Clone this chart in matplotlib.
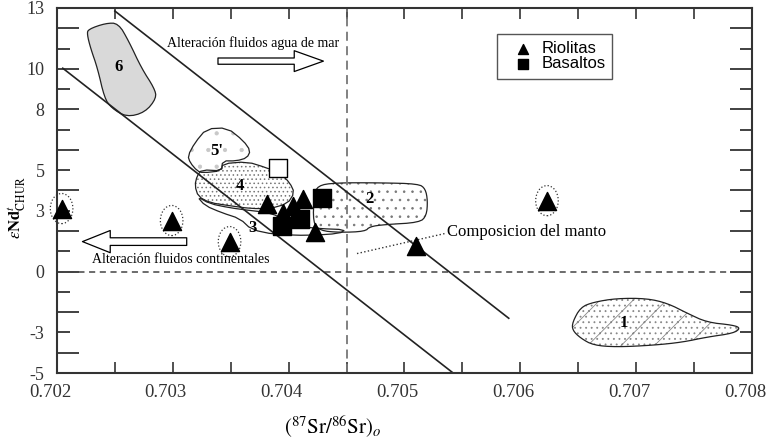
import matplotlib.pyplot as plt
from matplotlib.patches import Polygon
from matplotlib.path import Path
from matplotlib.transforms import Affine2D, ScaledTranslation
from matplotlib.ticker import FixedLocator, FuncFormatter

plt.rcParams['font.family'] = ['Liberation Serif', 'DejaVu Serif']
plt.rcParams['mathtext.fontset'] = 'stix'
plt.rcParams['hatch.linewidth'] = 0.6

# samples
rio_x = [0.70381, 0.70395, 0.70404, 0.70412, 0.70423, 0.70510]
rio_y = [3.35, 2.91, 3.25, 3.60, 1.93, 1.24]
rio_circ_x = [0.70204, 0.70299, 0.70349, 0.70623]
rio_circ_y = [3.11, 2.52, 1.48, 3.50]
bas_x = [0.70394, 0.70410, 0.70429]
bas_y = [2.27, 2.57, 3.65]
open_x = [0.70391]
open_y = [5.12]
legend_labels = ['Riolitas', 'Basaltos']

# mixing / trend lines
upper_x = [0.7025, 0.7059]
upper_y = [12.85, -2.3]
lower_x = [0.70205, 0.70542]
lower_y = [10.03, -5.0]
sr_ref = 0.7045
nd_ref = 0.0

# fields 1-6
reg6_x = [0.70227, 0.70242, 0.70253, 0.70262, 0.70273, 0.70284, 0.70286, 0.70276,
          0.70260, 0.70247, 0.70241, 0.70235, 0.70229, 0.70226]
reg6_y = [11.95, 12.25, 12.25, 11.36, 10.03, 9.05, 8.56, 7.85, 7.62, 8.07, 8.56, 10.03, 11.02, 11.71]
reg5_x = [0.70313, 0.70319, 0.70329, 0.70347, 0.70361, 0.70367, 0.70364, 0.70355,
          0.70343, 0.70342, 0.70326, 0.70321, 0.70315]
reg5_y = [5.71, 6.35, 7.04, 7.09, 6.45, 5.96, 5.61, 5.46, 5.46, 4.97, 4.87, 4.97, 5.37]
reg4_x = [0.70343, 0.70364, 0.70381, 0.70393, 0.70401, 0.70405, 0.70399, 0.70384,
          0.70367, 0.70349, 0.70332, 0.70322, 0.70319, 0.70321, 0.70325, 0.70342]
reg4_y = [5.32, 5.42, 5.12, 4.83, 4.38, 3.89, 3.35, 3.11, 3.11, 3.25, 3.40, 3.70, 4.24,
          4.73, 5.02, 4.97]
reg3_x = [0.70321, 0.70328, 0.70342, 0.70358, 0.70368, 0.70388, 0.70418, 0.70444,
          0.70449, 0.70427, 0.70410, 0.70401, 0.70384, 0.70367, 0.70349, 0.70332]
reg3_y = [3.70, 3.25, 2.91, 2.61, 2.07, 1.83, 1.78, 1.88, 2.07, 2.12, 2.22, 2.42, 2.91,
          3.01, 3.15, 3.35]
reg2_x = [0.70425, 0.70440, 0.70479, 0.70512, 0.70518, 0.70520, 0.70519, 0.70513,
          0.70483, 0.70470, 0.70466, 0.70444, 0.70427, 0.70421, 0.70422]
reg2_y = [4.24, 4.38, 4.38, 4.33, 4.09, 3.50, 2.76, 2.42, 2.32, 2.22, 1.98, 1.93, 2.02,
          2.42, 3.74]
reg1_x = [0.70645, 0.70652, 0.70663, 0.70683, 0.70709, 0.70727, 0.70744, 0.70761,
          0.70784, 0.70790, 0.70784, 0.70761, 0.70740, 0.70715, 0.70683, 0.70663,
          0.70652, 0.70645]
reg1_y = [-2.50, -1.76, -1.51, -1.32, -1.32, -1.56, -2.05, -2.50, -2.64, -2.79, -3.04,
          -3.23, -3.48, -3.63, -3.72, -3.63, -3.28, -2.89]

region_labels = ['6', "5'", '4', '3', '2', '1']
region_lab_x = [0.70253, 0.70338, 0.70358, 0.70369, 0.70470, 0.70689]
region_lab_y = [10.08, 5.96, 4.24, 2.17, 3.60, -2.55]

x_ticks = [0.702, 0.703, 0.704, 0.705, 0.706, 0.707, 0.708]
x_minor = [0.7025, 0.7035, 0.7045, 0.7055, 0.7065, 0.7075]
y_even = [-4, -2, 0, 2, 4, 6, 8, 10, 12]
y_odd = [-5, -3, -1, 1, 3, 5, 7, 9, 11, 13]
y_shown = [-5, -3, 0, 3, 5, 8, 10, 13]

fig = plt.figure(figsize=(7.72, 4.44), dpi=100)
ax = fig.add_axes([0.0738, 0.1599, 0.9003, 0.8221])
ax.set_xlim(0.702, 0.708)
ax.set_ylim(-5, 13)


def rounded(xs, ys, rounds=2):
    # chaikin corner cutting so the hand drawn fields look soft
    pts = list(zip(xs, ys))
    for _ in range(rounds):
        new = []
        for i in range(len(pts)):
            (x0, y0), (x1, y1) = pts[i], pts[(i + 1) % len(pts)]
            new.append((0.75 * x0 + 0.25 * x1, 0.75 * y0 + 0.25 * y1))
            new.append((0.25 * x0 + 0.75 * x1, 0.25 * y0 + 0.75 * y1))
        pts = new
    return pts


def field(xs, ys, face, hatch=None, hcol='#777777', rounds=2):
    pts = rounded(xs, ys, rounds)
    ax.add_patch(Polygon(pts, closed=True, facecolor=face, edgecolor=hcol if hatch else 'none',
                         hatch=hatch, lw=0, zorder=1))
    ax.add_patch(Polygon(pts, closed=True, facecolor='none', edgecolor='#222222',
                         lw=0.9, joinstyle='round', zorder=1.5))


field(reg6_x, reg6_y, '#d9d9d9')
field(reg3_x, reg3_y, 'white', rounds=1)
field(reg4_x, reg4_y, 'white', '....', rounds=1)
field(reg5_x, reg5_y, 'white', '.', hcol='#c8c8c8', rounds=1)
field(reg2_x, reg2_y, 'white', '..')
field(reg1_x, reg1_y, 'white', '/...', hcol='#888888')

for lab, lx, ly in zip(region_labels, region_lab_x, region_lab_y):
    ax.text(lx, ly, lab, fontsize=12, fontweight='bold', ha='center', va='center', zorder=2)

# lines
ax.plot(upper_x, upper_y, color='#222222', lw=1.2, zorder=2)
ax.plot(lower_x, lower_y, color='#222222', lw=1.2, zorder=2)
ax.axvline(sr_ref, color='#777777', lw=1.3, ls=(0, (5, 3)), zorder=1.8)
ax.axhline(nd_ref, color='#444444', lw=1.1, ls=(0, (4, 3)), zorder=1.8)

# samples
oval = Path.unit_circle().transformed(Affine2D().scale(0.75, 1.0))
ax.scatter(rio_circ_x, rio_circ_y, s=470, marker=oval, facecolors='none', edgecolors='#333333',
           linewidths=0.9, linestyles=':', zorder=3, clip_on=False)
h_rio = ax.scatter(rio_x + rio_circ_x, rio_y + rio_circ_y, s=170, marker='^', color='black',
                   zorder=4, clip_on=False)
h_bas = ax.scatter(bas_x, bas_y, s=150, marker='s', color='black', zorder=4)
ax.scatter(open_x, open_y, s=150, marker='s', facecolors='white', edgecolors='black',
           linewidths=1.0, zorder=4)

# mantle composition note
ax.plot([0.70459, 0.70535], [0.89, 1.88], color='#333333', lw=1.0, ls=':', zorder=2)
ax.text(0.70537, 1.93, 'Composicion del manto', fontsize=12, ha='left', va='center')

# alteration arrows
ax.text(0.70295, 11.26, 'Alteración fluidos agua de mar', fontsize=10, ha='left', va='center')
ax.annotate('', xy=(0.70430, 10.38), xytext=(0.70339, 10.38),
            arrowprops=dict(arrowstyle='simple,head_length=2.1,head_width=1.5,tail_width=0.45',
                            fc='white', ec='black', lw=0.9, shrinkA=0, shrinkB=0,
                            mutation_scale=10))
ax.text(0.70230, 0.60, 'Alteración fluidos continentales', fontsize=10, ha='left', va='center')
ax.annotate('', xy=(0.70222, 1.48), xytext=(0.70312, 1.48),
            arrowprops=dict(arrowstyle='simple,head_length=2.0,head_width=1.6,tail_width=0.55',
                            fc='white', ec='black', lw=0.9, shrinkA=0, shrinkB=0,
                            mutation_scale=10))

# legend
leg = ax.legend([h_rio, h_bas], legend_labels, loc='upper left',
                bbox_to_anchor=(0.633, 0.929, 0.165, 0.0), mode='expand', borderaxespad=0,
                fancybox=False, edgecolor='#555555', framealpha=1, handlelength=2.2,
                handletextpad=0.05, labelspacing=0.0, borderpad=0.45, markerscale=0.55,
                prop={'family': ['Liberation Sans Narrow', 'Liberation Sans'], 'size': 12})
leg.get_frame().set_linewidth(1.0)

# axes & ticks
for sp in ax.spines.values():
    sp.set_linewidth(1.5)
    sp.set_color('#333333')

ax.xaxis.set_major_locator(FixedLocator(x_ticks))
ax.xaxis.set_minor_locator(FixedLocator(x_minor))
ax.xaxis.set_major_formatter(FuncFormatter(lambda v, p: f'{v:.3f}'))
ax.yaxis.set_major_locator(FixedLocator(y_even))
ax.yaxis.set_minor_locator(FixedLocator(y_odd))
ylab = FuncFormatter(lambda v, p: f'{v:g}' if round(v) in y_shown else '')
ax.yaxis.set_major_formatter(ylab)
ax.yaxis.set_minor_formatter(ylab)

ax.tick_params(axis='x', which='both', direction='in', top=True, length=8, width=1.2,
               labelsize=13.5, pad=8, colors='#333333')
ax.tick_params(axis='y', which='major', direction='in', right=True, length=16, width=1.3,
               labelsize=13, pad=9, colors='#333333')
ax.tick_params(axis='y', which='minor', direction='in', right=True, length=9, width=1.3,
               labelsize=13, pad=9, colors='#333333')

shift = ScaledTranslation(-5 / 72, 0, fig.dpi_scale_trans)
for t in ax.get_xticklabels():
    t.set_transform(t.get_transform() + shift)

fig.text(17 / 772, 1 - 207 / 444, r'$\epsilon\mathbf{Nd}^{t}_{\mathrm{CHUR}}$', rotation=90,
         ha='center', va='center', fontsize=12)
fig.text(333 / 772, 1 - 427 / 444, r'$(^{87}\mathrm{Sr}/^{86}\mathrm{Sr})_{o}$',
         ha='center', va='center', fontsize=15)

fig.savefig('out.png', dpi=100)
